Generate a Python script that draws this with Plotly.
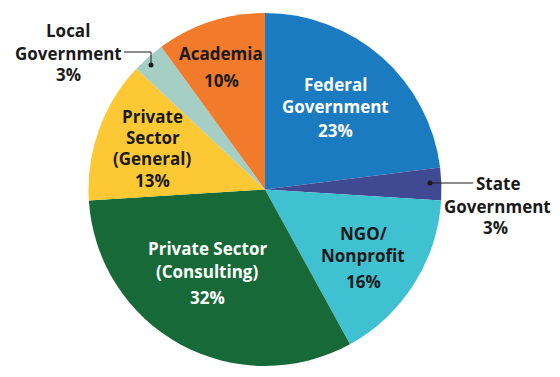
import plotly.graph_objects as go

W, H = 560, 377

sectors = ["Federal Government", "State Government", "NGO/Nonprofit",
           "Private Sector (Consulting)", "Private Sector (General)",
           "Local Government", "Academia"]
shares = [23, 3, 16, 32, 13, 3, 10]
colors = ["#1a7bc0", "#3f4a93", "#40c1d1", "#176a37", "#fcc935", "#a5cfc5", "#f17a2b"]

# label lines per sector (text only)
label_lines = {
    "Federal Government": ["Federal", "Government"],
    "State Government": ["State", "Government"],
    "NGO/Nonprofit": ["NGO/", "Nonprofit"],
    "Private Sector (Consulting)": ["Private Sector", "(Consulting)"],
    "Private Sector (General)": ["Private", "Sector", "(General)"],
    "Local Government": ["Local", "Government"],
    "Academia": ["Academia"],
}

# layout: pixel positions for each line of label, then percent
label_pos = {
    "Federal Government": ([(335, 84), (335, 106)], (335, 130), "white"),
    "State Government": ([(498, 183), (497, 206)], (495, 228), "#1a1a1a"),
    "NGO/Nonprofit": ([(363, 233), (363, 255)], (363, 281), "#1a1a1a"),
    "Private Sector (Consulting)": ([(207, 249), (207, 271)], (207, 297), "white"),
    "Private Sector (General)": ([(153, 117), (153, 137), (153, 158)], (153, 181), "#1a1a1a"),
    "Local Government": ([(68, 30), (68, 53)], (68, 75), "#1a1a1a"),
    "Academia": ([(221, 53)], (221, 80), "#1a1a1a"),
}

top, bottom, cx = 13, 366, 265
r = (bottom - top) / 2

fig = go.Figure(go.Pie(
    labels=sectors, values=shares, sort=False, direction="clockwise", rotation=0,
    marker=dict(colors=colors, line=dict(width=0)),
    textinfo="none", hoverinfo="label+percent", showlegend=False,
    domain=dict(x=[(cx - r) / W, (cx + r) / W], y=[(H - bottom) / H, (H - top) / H]),
))

font = dict(family="Open Sans", size=17, weight=700)

def px(x, y):
    return x / W, 1 - y / H

annotations = []
for s, v in zip(sectors, shares):
    lines, pct_pos, col = label_pos[s]
    for t, (x, y) in zip(label_lines[s], lines):
        ax, ay = px(x, y)
        annotations.append(dict(text=t, x=ax, y=ay, xref="paper", yref="paper",
                                showarrow=False, xanchor="center", yanchor="middle",
                                font=dict(font, color=col)))
    ax, ay = px(*pct_pos)
    annotations.append(dict(text=f"{v}%", x=ax, y=ay, xref="paper", yref="paper",
                            showarrow=False, xanchor="center", yanchor="middle",
                            font=dict(font, color=col)))

shapes = []
def pline(x0, y0, x1, y1):
    a0, b0 = px(x0, y0); a1, b1 = px(x1, y1)
    shapes.append(dict(type="line", xref="paper", yref="paper", x0=a0, y0=b0, x1=a1, y1=b1,
                       line=dict(color="#1a1a1a", width=1)))
def pdot(x, y, rad=2.5):
    a0, b0 = px(x - rad, y + rad); a1, b1 = px(x + rad, y - rad)
    shapes.append(dict(type="circle", xref="paper", yref="paper", x0=a0, y0=b0, x1=a1, y1=b1,
                       fillcolor="#1a1a1a", line=dict(width=0)))

# Local Government leader
pline(124, 52, 151, 52)
pline(151, 52, 151, 65)
pdot(151, 65)
# State Government leader
pline(430, 183, 473, 183)
pdot(430, 183)

fig.update_layout(width=W, height=H, margin=dict(l=0, r=0, t=0, b=0),
                  paper_bgcolor="white", plot_bgcolor="white",
                  annotations=annotations, shapes=shapes)

fig.write_html("out.html", config={"displayModeBar": False},
               post_script="document.body.style.margin='0';")
